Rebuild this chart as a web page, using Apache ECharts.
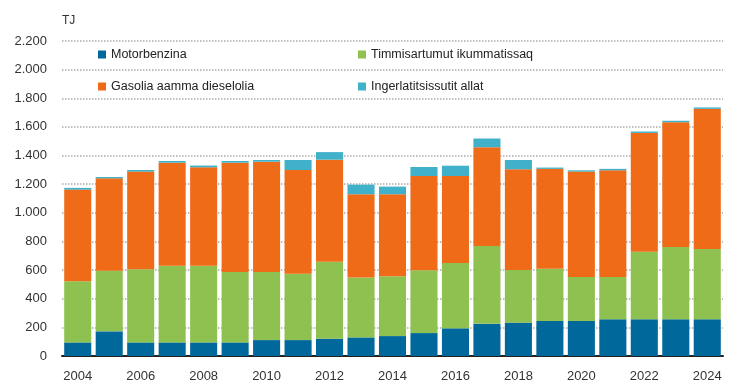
<!DOCTYPE html>
<html><head><meta charset="utf-8">
<script src="https://cdn.jsdelivr.net/npm/echarts@6/dist/echarts.min.js"></script>
<style>html,body{margin:0;padding:0;background:#fff}#c{width:734px;height:389px}</style>
</head><body><div id="c"></div>
<script>
const years = ['2004','2005','2006','2007','2008','2009','2010','2011','2012','2013','2014','2015','2016','2017','2018','2019','2020','2021','2022','2023','2024'];
const motorbenzina = [95,172,95,95,95,95,111,111,121,130,139,160,193,225,233,245,245,257,257,257,257];
const timmisartumut = [427,424,511,536,536,492,476,464,538,418,418,439,457,543,367,364,306,294,471,504,490];
const gasolia = [640,645,682,719,687,763,770,724,712,582,573,658,607,690,704,698,737,746,830,872,979];
const allat = [12,9,11,12,12,12,12,70,53,67,53,63,72,61,65,9,9,10,10,10,10];
const yTicks = [0,200,400,600,800,1000,1200,1400,1600,1800,2000,2200];
const names = ['Motorbenzina','Timmisartumut ikummatissaq','Gasolia aamma dieselolia','Ingerlatitsissutit allat'];
const colors = ['#00689a','#8fc150','#f06b18','#40b1c9'];
const font = 'Liberation Sans';
const chart = echarts.init(document.getElementById('c'));
const leg = (name, left, top) => ({data:[name], left:left, top:top, itemWidth:8, itemHeight:8, icon:'rect', itemGap:4,
  textStyle:{fontFamily:font, fontSize:12.5, color:'#222'}, selectedMode:false});
chart.setOption({
  animation:false,
  color: colors,
  legend:[leg(names[0],93,43), leg(names[1],353,43), leg(names[2],93,75), leg(names[3],353,75)],
  grid:{left:62, right:11, top:41, bottom:33},
  xAxis:{type:'category', data:years,
    axisLine:{lineStyle:{color:'#222', width:2}}, axisTick:{show:false},
    axisLabel:{interval:1, fontFamily:font, fontSize:13, color:'#333', margin:14}},
  yAxis:{type:'value', min:0, max:2200, interval:200, name:'TJ',
    nameLocation:'end', nameGap:14, nameTextStyle:{fontFamily:font, fontSize:12, color:'#333', align:'left', padding:[0,0,0,0]},
    axisLabel:{fontFamily:font, fontSize:13, color:'#333', margin:15,
      formatter: v => yTicks.includes(v) ? String(v).replace(/\B(?=(\d{3})+(?!\d))/g,'.') : ''},
    splitLine:{lineStyle:{color:'#aaa', type:'dotted', width:1.5}}},
  series:[
    {name:names[0], type:'bar', stack:'s', data:motorbenzina, barCategoryGap:'14%'},
    {name:names[1], type:'bar', stack:'s', data:timmisartumut},
    {name:names[2], type:'bar', stack:'s', data:gasolia},
    {name:names[3], type:'bar', stack:'s', data:allat}
  ]
});
</script></body></html>
